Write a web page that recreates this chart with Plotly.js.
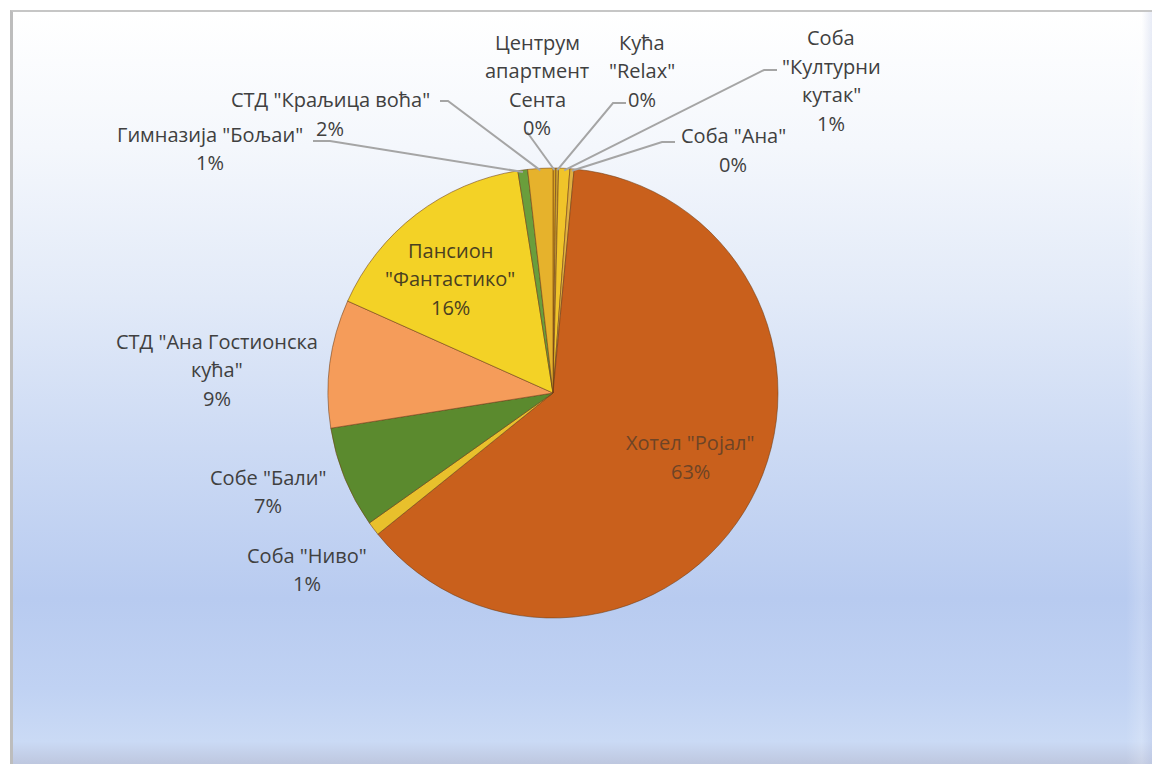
<!DOCTYPE html>
<html>
<head>
<meta charset="utf-8">
<script src="https://cdn.plot.ly/plotly-3.0.1.min.js"></script>
<style>
  html, body { margin: 0; padding: 0; background: #ffffff; }
  #frame {
    position: absolute; left: 10px; top: 10px; width: 1142px; height: 754px;
    background: linear-gradient(180deg, #FFFFFF 0%, #F4F7FC 18%, #E2EAF8 38%, #CCDAF4 58%, #B8CBF0 78%, #C0D2F3 90%, #CADAF5 97%, #BEC7DF 100%);
    border-left: 3px solid #BDBDBD; border-top: 2px solid #C6C6C6;
    box-sizing: border-box;
  }
  #frame:after {
    content: ""; position: absolute; right: 0; top: 0; width: 26px; height: 100%;
    background: linear-gradient(90deg, rgba(255,255,255,0) 0%, rgba(255,255,255,0.18) 60%, rgba(190,200,230,0.35) 100%);
  }
  #chart { position: absolute; left: 0; top: 0; width: 1152px; height: 764px; }
</style>
</head>
<body>
<div id="frame"></div>
<div id="chart"></div>
<script>
// ---- data ----
const categories = ['Центрум апартмент Сента', 'Кућа "Relax"', 'Соба "Културни кутак"', 'Соба "Ана"',
  'Хотел "Ројал"', 'Соба "Ниво"', 'Собе "Бали"', 'СТД "Ана Гостионска кућа"',
  'Пансион "Фантастико"', 'Гимназија "Бољаи"', 'СТД "Краљица воћа"'];
const shares = [0.2, 0.2, 0.8, 0.3, 62.7, 1.0, 7.3, 9.2, 15.8, 0.7, 1.8];
// label wrapping as in the reference (text only)
const labelLines = [
  ['Центрум', 'апартмент', 'Сента'],
  ['Кућа', '"Relax"'],
  ['Соба', '"Културни', 'кутак"'],
  ['Соба "Ана"'],
  ['Хотел "Ројал"'],
  ['Соба "Ниво"'],
  ['Собе "Бали"'],
  ['СТД "Ана Гостионска', 'кућа"'],
  ['Пансион', '"Фантастико"'],
  ['Гимназија "Бољаи"'],
  ['СТД "Краљица воћа"']
];
const sliceColors = ['#D9A520', '#C8A030', '#F0C42A', '#E0B040', '#C9601C', '#E8C02C',
  '#5B8A2E', '#F59C5A', '#F3D226', '#6A9E3C', '#E6B22C'];

// ---- layout config (pixels) ----
const W = 1152, H = 764;
const CX = 553, CY = 393, R = 225;
const LH = 28.5;
const place = [
  {x: 537, y: 42, lead: [[527, 132]]},
  {x: 642, y: 42, lead: [[626, 103], [613, 103]]},
  {x: 831, y: 38, lead: [[777, 70], [764, 70]]},
  {x: 733, y: 136, lead: [[675, 142], [662, 142]]},
  {x: 690, y: 443, color: '#6E4426'},
  {x: 307, y: 555},
  {x: 268, y: 477},
  {x: 217, y: 341},
  {x: 450, y: 250, color: '#4A4020'},
  {x: 210, y: 134, lead: [[313, 141], [330, 141]]},
  {x: 330, y: 100, lead: [[440, 101], [448, 101]]}
];

const px = v => v / W;
const py = v => 1 - v / H;
const total = shares.reduce((a, b) => a + b, 0);

const annotations = [];
const shapes = [];
let cum = 0;
shares.forEach((v, i) => {
  const frac = v / total;
  const mid = (cum + frac / 2) * 2 * Math.PI;
  cum += frac;
  const lines = labelLines[i].concat([Math.round(frac * 100) + '%']);
  const p = place[i];
  lines.forEach((t, k) => {
    annotations.push({
      x: px(p.x), y: py(p.y + k * LH), xref: 'paper', yref: 'paper',
      text: t, showarrow: false, xanchor: 'center', yanchor: 'middle',
      font: {family: 'Open Sans, sans-serif', size: 20, color: p.color || '#404040'}
    });
  });
  if (p.lead) {
    const ex = CX + (R - 2) * Math.sin(mid), ey = CY - (R - 2) * Math.cos(mid);
    const pts = p.lead.concat([[ex, ey]]);
    const path = pts.map((q, k) => (k ? 'L' : 'M') + px(q[0]) + ',' + py(q[1])).join(' ');
    shapes.push({type: 'path', xref: 'paper', yref: 'paper', path: path,
      line: {color: '#A5A5A5', width: 2}});
  }
});

const trace = {
  type: 'pie',
  labels: categories,
  values: shares,
  sort: false,
  direction: 'clockwise',
  rotation: 0,
  textinfo: 'none',
  marker: {colors: sliceColors, line: {color: 'rgba(110,60,20,0.55)', width: 1}},
  domain: {x: [px(CX - R), px(CX + R)], y: [1 - (CY + R) / H, 1 - (CY - R) / H]},
  showlegend: false,
  hoverinfo: 'label+percent'
};

Plotly.newPlot('chart', [trace], {
  width: W, height: H,
  margin: {l: 0, r: 0, t: 0, b: 0},
  paper_bgcolor: 'rgba(0,0,0,0)',
  plot_bgcolor: 'rgba(0,0,0,0)',
  showlegend: false,
  annotations: annotations,
  shapes: shapes
}, {displayModeBar: false, staticPlot: true});
</script>
</body>
</html>
